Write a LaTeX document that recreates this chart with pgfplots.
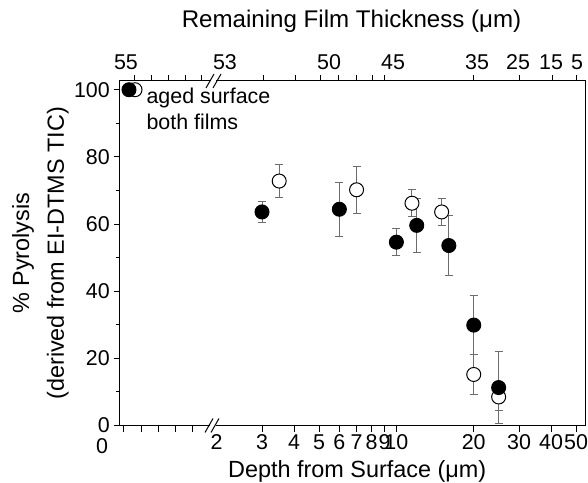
\documentclass[border=0pt]{standalone}
\usepackage{fontspec}
\setmainfont{Liberation Sans}
\usepackage{pgfplots}
\pgfplotsset{compat=1.18}
\newcommand{\tickfont}{\fontsize{21.5}{26}\selectfont}
\newcommand{\labelfont}{\fontsize{23.5}{35}\selectfont}
\pgfplotstableread{
x y e
3.5 72.8 5
7 70.2 7
11.5 66.2 4
15 63.6 4
20 15.2 6
25 8.5 4
}\opendata
\pgfplotstableread{
x y e
3 63.6 3
6 64.4 8
10 54.6 4
12 59.6 8
16 53.6 9
20 29.9 8.8
25 11.3 10.8
}\filleddata
\begin{document}
\begin{tikzpicture}
\begin{axis}[
  name=main,
  scale only axis, width=465bp, height=344.5bp,
  xmin=120, xmax=585, ymin=0, ymax=102.6,
  clip=false,
  axis line style={line width=1bp, black},
  tick style={line width=1bp, black},
  tick align=outside,
  xtick pos=left, ytick pos=left,
  major tick length=6bp, minor tick length=4bp,
  xtick={124,141.2,158.4,175.6,192.8,262,294.1,319,339.4,356.6,371.5,384.6,396.4,473.7,519,551.1,576},
  xticklabels={,,,,,3,4,5,6,7,8,9,10,20,30,40,50},
  extra x ticks={216.7}, extra x tick labels={2},
  extra x tick style={tick style={draw=none}},
  ytick={0,20,40,60,80,100},
  minor ytick={10,30,50,70,90},
  ticklabel style={font=\tickfont},
  yticklabel style={inner sep=4bp},
  /pgf/number format/assume math mode=true,
  x filter/.expression={ifthenelse(x<1.5,124+86*x,262+111.614*ln(max(x,0.01)/3))},
  xlabel={Depth from Surface (μm)},
  xlabel style={font=\labelfont, at={(axis description cs:0.51,0)}, anchor=center, yshift=-45.5bp},
  ylabel={\% Pyrolysis\\(derived from EI-DTMS TIC)},
  ylabel style={font=\labelfont, align=center, at={(axis description cs:-0.171,0.5)}, anchor=center, rotate=0},
  error bars/y dir=both, error bars/y explicit,
  error bars/error bar style={gray!85!black, line width=1bp},
  error bars/error mark options={rotate=90, mark size=4bp, gray!85!black, line width=1bp},
]
% surface points
\addplot[only marks, mark=*, mark size=7bp, mark options={draw=black, fill=white, line width=1bp}]
  coordinates {(0.128,100)};
\addplot[only marks, mark=*, mark size=7bp, mark options={draw=black, fill=black, line width=1bp}]
  coordinates {(0.058,100)};
% open circles
\addplot[only marks, mark=*, mark size=7bp, mark options={draw=black, fill=white, line width=1bp}]
  table[x=x, y=y, y error=e] {\opendata};
% filled circles
\addplot[only marks, mark=*, mark size=7bp, mark options={draw=black, fill=black, line width=1bp}]
  table[x=x, y=y, y error=e] {\filleddata};
\node[font=\tickfont, anchor=base west] at (axis description cs:0.0495,0.9353) {aged surface};
\node[font=\tickfont, anchor=base west] at (axis description cs:0.0495,0.8578) {both films};
\node[font=\tickfont, anchor=center] at (axis description cs:-0.0387,-0.061) {0};
\end{axis}
\begin{axis}[
  scale only axis, width=465bp, height=344.5bp,
  xmin=120, xmax=585, ymin=0, ymax=1,
  clip=false,
  axis x line*=top, axis y line=none,
  axis line style={line width=1bp, black},
  tick style={line width=1bp, black},
  tick align=outside,
  major tick length=6bp, minor tick length=6bp,
  major tick style={draw=none},
  xtick={126,225,329,393,477,518,551,577},
  xticklabels={55,53,50,45,35,25,15,5},
  minor xtick={134,151,168,185,201,263,295,320,338,356,372,384,473,519,552,576},
  ticklabel style={font=\tickfont},
  xticklabel style={yshift=2bp},
]
\end{axis}
\node[font=\fontsize{24.2}{30}\selectfont, anchor=center] at (231.5bp,404bp) {Remaining Film Thickness (μm)};
% axis breaks
\fill[white] (89.5bp,-3bp) rectangle (95.5bp,3bp);
\draw[line width=1bp] (85bp,-7bp) -- (93bp,7bp);
\draw[line width=1bp] (91bp,-7bp) -- (99bp,7bp);
\fill[white] (91bp,341.5bp) rectangle (96bp,347.5bp);
\draw[line width=1bp] (86bp,337.5bp) -- (94bp,351.5bp);
\draw[line width=1bp] (93bp,337.5bp) -- (101bp,351.5bp);
\pgfresetboundingbox
\path[use as bounding box] (-120bp,-57.5bp) rectangle (468bp,425.5bp);
\end{tikzpicture}
\end{document}
